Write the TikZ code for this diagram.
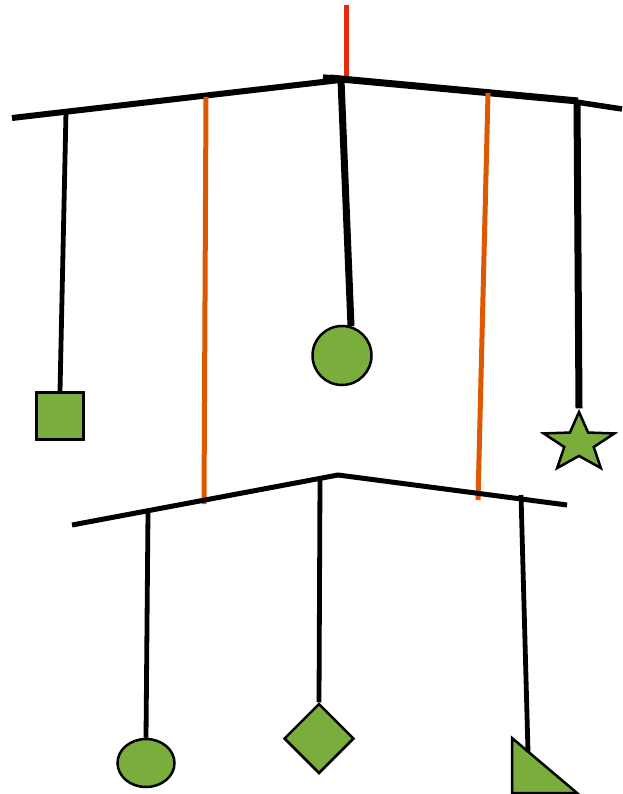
\documentclass[tikz,border=0pt]{standalone}
\usepackage{xcolor}
\usepackage{tikz}
\usetikzlibrary{shapes.geometric}

\definecolor{leafgreen}{RGB}{122,173,59}
\definecolor{rodorange}{RGB}{222,88,2}
\definecolor{hookred}{RGB}{230,42,12}

\begin{document}
\begin{tikzpicture}[
    x=1pt, y=-1pt,
    bar/.style={line width=5.5pt, line cap=butt},
    cord/.style={line width=4.8pt},
    heavycord/.style={line width=7pt},
    link/.style={line width=5pt, draw=rodorange},
    weight/.style={draw, fill=leafgreen, line width=2.5pt, inner sep=0pt}
]
\useasboundingbox (0,0) rectangle (622,794);

\coordinate (hook) at (346,5);
\coordinate (topL) at (12,118);
\coordinate (topM) at (330,78);
\coordinate (topR) at (578,101);
\coordinate (topE) at (622,109);
\coordinate (botL) at (72,525);
\coordinate (botM) at (338,475);
\coordinate (botR) at (567,505);

\coordinate (hsq) at (66,112);
\coordinate (hlinkL) at (206,97);
\coordinate (hball) at (341,80);
\coordinate (hlinkR) at (488,93);
\coordinate (hstar) at (577,101);
\coordinate (lowL) at (204,504);
\coordinate (lowR) at (478,500);
\coordinate (hegg) at (148,512);
\coordinate (hkite) at (320,478);
\coordinate (hwedge) at (521,495);
\coordinate (wedgeTip) at (528,752);

\node[weight, rectangle, minimum size=47pt] (sq) at (60,416) {};
\node[weight, circle, minimum size=59pt] (ball) at (342,355.5) {};
\node[weight, star, star points=5, star point ratio=2.4, minimum size=62pt,
      xscale=1.2, transform shape] (starw) at (579,443) {};
\node[weight, ellipse, minimum width=57pt, minimum height=48pt] (egg) at (146,763) {};
\node[weight, diamond, minimum size=70pt] (kite) at (319,738.5) {};
\draw[weight] (512,738) -- (512,793) -- (577,793) -- cycle;

\draw[line width=5pt, draw=hookred] (hook) -- (346,78);

\draw[bar, line width=6pt] (topL) -- (340,80);
\draw[bar, line width=7pt] (topM) -- (topR);
\draw[bar, line width=5.5pt] (576,102) -- (topE);
\draw[bar] (323,77) -- (343,79);

\draw[cord] (hsq) -- (sq.north);
\draw[heavycord] (hball) -- (ball.73);
\draw[heavycord] (hstar) -- (starw.north);
\draw[link] (hlinkL) -- (lowL);
\draw[link] (hlinkR) -- (lowR);

\draw[bar, line width=5pt] (botL) -- (botM) -- (botR);
\draw[cord] (hegg) -- (egg.north);
\draw[cord] (hkite) -- (kite.north);
\draw[cord] (hwedge) -- (wedgeTip);
\end{tikzpicture}
\end{document}
